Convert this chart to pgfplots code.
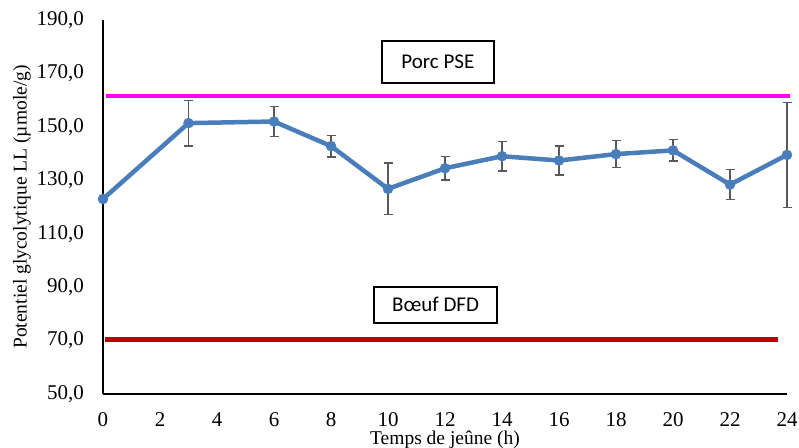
\documentclass[border=0pt]{standalone}
\usepackage{pgfplots}
\pgfplotsset{compat=1.18}
\usepackage{pgfplotstable}
\usepackage{fontspec}
\setmainfont{Liberation Serif}
\newfontfamily\carlito{Carlito}
\definecolor{serieblue}{HTML}{4A7EBB}
\definecolor{pse}{HTML}{FF00F0}
\definecolor{dfd}{HTML}{C00000}
\definecolor{errgray}{HTML}{595959}
\pgfplotstableread{
x y e
0 123.0 0
3 151.4 8.5
6 152.0 5.6
8 142.8 4.0
10 126.8 9.6
12 134.5 4.4
14 139.0 5.6
16 137.4 5.5
18 139.8 5.0
20 141.2 4.0
22 128.4 5.6
24 139.5 19.6
}\glycodata
\begin{document}
\begin{tikzpicture}
\begin{axis}[
  at={(0,0)}, anchor=south west,
  scale only axis, width=684pt, height=374pt,
  xmin=0, xmax=24, ymin=50, ymax=190,
  xtick={0,2,...,24}, ytick={50,70,...,190},
  axis x line*=bottom, axis y line*=left,
  axis line style={-, line width=1.3pt, black},
  major tick length=0pt,
  clip=false,
  /pgf/number format/assume math mode=true,
  yticklabel={\pgfmathprintnumber[fixed, fixed zerofill, precision=1, use comma, 1000 sep={}]{\tick}},
  ticklabel style={font=\fontsize{21}{24}\selectfont, inner sep=0pt},
  xticklabel style={anchor=center, yshift=-26pt},
  yticklabel style={anchor=east, xshift=-19pt},
  xlabel={Temps de jeûne (h)},
  ylabel={Potentiel glycolytique LL (µmole/g)},
  label style={font=\fontsize{19.5}{22}\selectfont},
  xlabel style={at={(axis description cs:0.5,0)}, anchor=center, yshift=-46pt},
  ylabel style={at={([xshift=-81pt]axis description cs:0,0.5)}, anchor=center},
]
\addplot[pse, line width=4pt] coordinates {(0.1,161.6) (24.1,161.6)};
\addplot[dfd, line width=5pt] coordinates {(0.07,70.5) (23.7,70.5)};
\addplot[serieblue, line width=4.5pt, mark=*, mark size=5pt,
  mark options={fill=serieblue, draw=serieblue, line width=0.5pt},
  error bars/.cd, y dir=both, y explicit,
  error bar style={errgray, line width=1.5pt},
  error mark options={errgray, rotate=90, mark size=4.5pt, line width=1.5pt}]
  table[x=x, y=y, y error=e] {\glycodata};
\node[draw, line width=1.5pt, fill=white, minimum width=112pt, minimum height=42pt, inner sep=0pt,
  font=\carlito\fontsize{21}{24}\selectfont] at (axis cs:11.75,174.2) {Porc PSE};
\node[draw, line width=1.5pt, fill=white, minimum width=123pt, minimum height=36pt, inner sep=0pt,
  font=\carlito\fontsize{21}{24}\selectfont] at (axis cs:11.67,83.4) {Bœuf DFD};
\end{axis}
\pgfresetboundingbox
\path[use as bounding box] (-103pt,-53pt) rectangle (696pt,394pt);
\end{tikzpicture}
\end{document}
